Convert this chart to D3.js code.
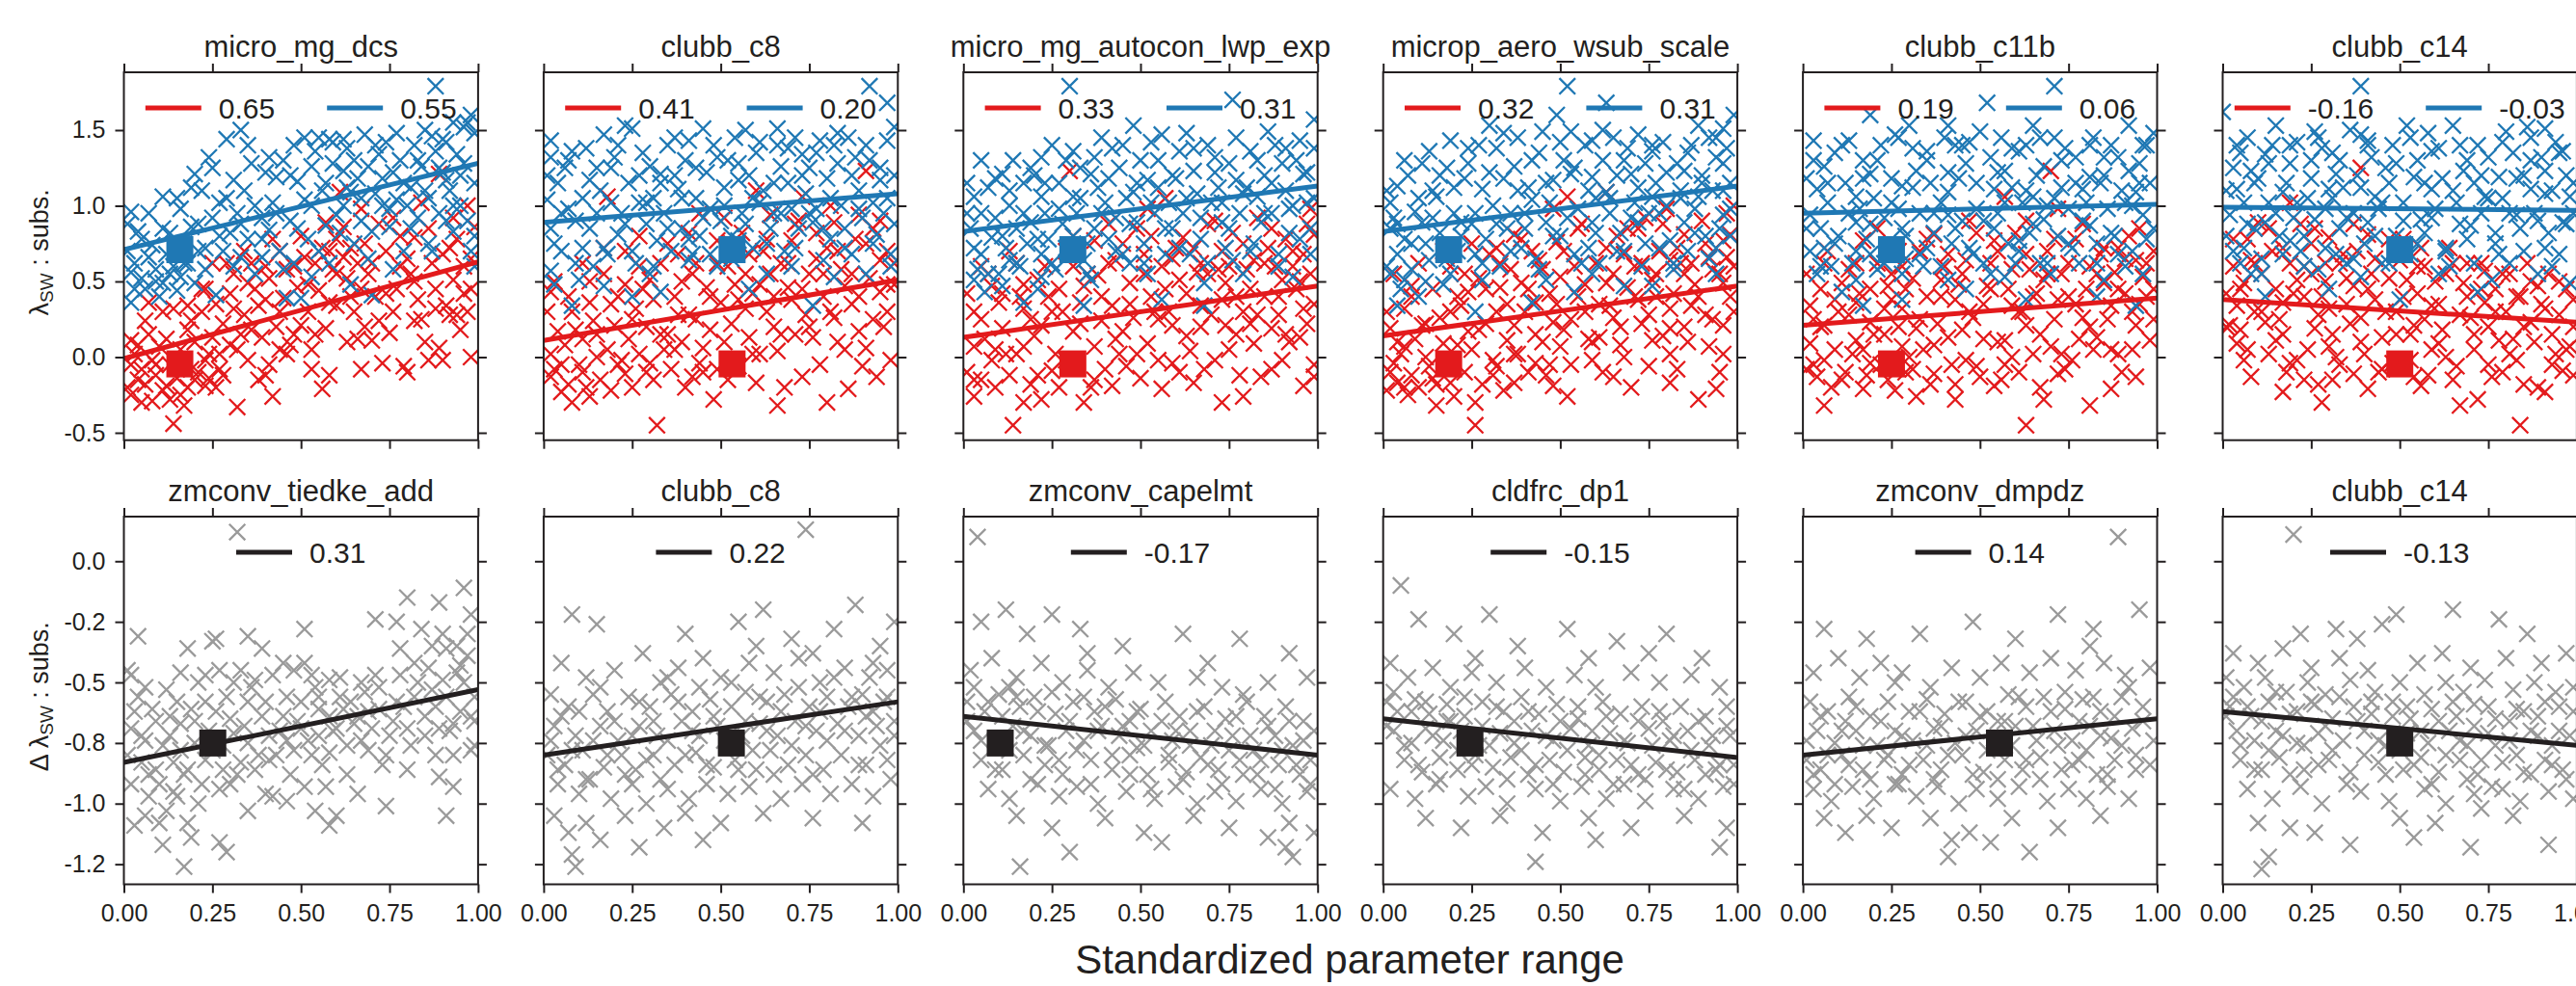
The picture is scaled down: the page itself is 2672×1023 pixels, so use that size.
<!DOCTYPE html>
<html><head><meta charset="utf-8">
<script src="https://cdn.jsdelivr.net/npm/d3@7"></script>
<style>
body{margin:0;background:#fff}
svg text{font-family:"Liberation Sans",Arial,Helvetica,sans-serif;fill:#231f20}
</style>
</head><body>
<svg id="c" width="2672" height="1023"></svg>
<script>
// ---------------- DATA ----------------
const topTitles = ["micro_mg_dcs","clubb_c8","micro_mg_autocon_lwp_exp","microp_aero_wsub_scale","clubb_c11b","clubb_c14"];
const bottomTitles = ["zmconv_tiedke_add","clubb_c8","zmconv_capelmt","cldfrc_dp1","zmconv_dmpdz","clubb_c14"];
const topRedCorr = ["0.65","0.41","0.33","0.32","0.19","-0.16"];
const topBlueCorr = ["0.55","0.20","0.31","0.31","0.06","-0.03"];
const bottomCorr = ["0.31","0.22","-0.17","-0.15","0.14","-0.13"];
const topDefaultX = [0.158,0.532,0.309,0.185,0.25,0.50];
const bottomDefaultX = [0.251,0.53,0.104,0.245,0.555,0.50];
const defaultRedY = -0.045, defaultBlueY = 0.71, defaultGreyY = -0.75;
const topRedFit = [[-0.01,0.63],[0.11,0.51],[0.13,0.47],[0.14,0.47],[0.21,0.39],[0.38,0.23]];
const topBlueFit = [[0.71,1.28],[0.89,1.08],[0.83,1.13],[0.83,1.13],[0.95,1.01],[0.99,0.97]];
const bottomFit = [[-0.83,-0.53],[-0.80,-0.58],[-0.64,-0.80],[-0.65,-0.81],[-0.80,-0.65],[-0.62,-0.76]];
const xTicks = [0,0.25,0.5,0.75,1];
const xTickLabels = ["0.00","0.25","0.50","0.75","1.00"];
const topYTicks = [-0.5,0,0.5,1.0,1.5];
const topYTickLabels = ["-0.5","0.0","0.5","1.0","1.5"];
const bottomYTicks = [-1.25,-1.0,-0.75,-0.5,-0.25,0];
const bottomYTickLabels = ["-1.2","-1.0","-0.8","-0.5","-0.2","0.0"];
const topYDomain = [-0.549,1.882];
const bottomYDomain = [-1.333,0.184];

const red1 = [[0.14,-0.44],[0.32,-0.33],[0.42,-0.26],[0.40,-0.12],[0.41,-0.05],[0.02,-0.25],[0.08,-0.29],[0.16,-0.25],[0.23,-0.19],[0.27,-0.08],[0.05,-0.08],[0.10,0.07],[0.14,0.32],[0.19,0.24],[0.25,0.13],[0.31,0.32],[0.37,0.45],[0.33,0.15],[0.39,0.13],[0.48,0.15],[0.53,0.05],[0.50,0.21],[0.45,0.39],[0.46,0.58],[0.51,0.66],[0.57,0.89],[0.58,0.70],[0.62,0.66],[0.61,1.09],[0.67,0.98],[0.67,-0.08],[0.73,-0.04],[0.80,-0.10],[0.86,-0.02],[0.90,-0.02],[0.98,0.00],[0.89,1.21],[0.93,0.92],[0.97,1.00],[0.82,0.79],[0.77,0.45],[0.72,0.24],[0.82,0.24],[0.88,0.32],[0.94,0.28],[0.98,0.45],[0.93,0.51],[0.67,0.45],[0.60,0.34],[0.57,0.19],[0.70,0.11],[0.25,0.62],[0.29,0.62],[0.35,0.49],[0.23,0.45],[0.18,0.34],[0.06,0.24],[0.02,0.11],[0.07,0.36],[0.27,0.02],[0.19,-0.08],[0.23,-0.02],[0.12,-0.19],[0.17,-0.32],[0.53,-0.08],[0.56,-0.21],[0.01,-0.20],[0.04,-0.15],[0.06,-0.18],[0.09,-0.12],[0.11,-0.22],[0.13,-0.05],[0.15,-0.14],[0.18,-0.20],[0.21,-0.10],[0.24,-0.14],[0.26,-0.20],[0.03,0.02],[0.08,-0.02],[0.12,0.12],[0.20,0.10],[0.22,0.30],[0.28,0.22],[0.30,0.08],[0.34,0.28],[0.36,0.62],[0.38,0.34],[0.41,0.52],[0.43,0.20],[0.44,0.70],[0.47,0.08],[0.49,0.46],[0.52,0.30],[0.54,0.62],[0.55,0.44],[0.59,0.58],[0.60,0.78],[0.63,0.52],[0.64,0.72],[0.65,0.30],[0.66,0.62],[0.69,0.55],[0.71,0.40],[0.74,0.70],[0.75,0.16],[0.76,0.92],[0.78,0.60],[0.79,-0.06],[0.81,0.55],[0.83,0.38],[0.84,1.02],[0.85,0.10],[0.87,0.62],[0.89,0.06],[0.91,0.34],[0.92,0.72],[0.95,0.18],[0.96,0.60],[0.97,0.30],[0.99,0.86],[0.35,-0.02],[0.44,0.05],[0.58,-0.12],[0.63,0.10],[0.68,0.20],[0.31,0.55],[0.40,0.60]];
const red1b = [[0.02,-0.05],[0.04,0.08],[0.05,-0.30],[0.07,0.15],[0.09,-0.05],[0.11,0.30],[0.13,-0.28],[0.16,0.05],[0.18,0.18],[0.20,-0.15],[0.22,0.45],[0.24,0.02],[0.26,0.35],[0.28,-0.12],[0.30,0.42],[0.32,0.05],[0.34,0.70],[0.36,0.18],[0.38,-0.15],[0.40,0.38],[0.42,0.78],[0.44,0.30],[0.46,0.02],[0.48,0.60],[0.50,0.80],[0.52,0.48],[0.54,0.15],[0.56,0.72],[0.58,0.36],[0.60,0.55],[0.62,0.86],[0.64,0.40],[0.66,0.12],[0.68,0.75],[0.70,0.62],[0.72,0.88],[0.74,0.42],[0.76,0.30],[0.78,0.80],[0.80,0.65],[0.82,0.50],[0.84,0.25],[0.86,0.85],[0.88,0.45],[0.90,0.68],[0.92,0.28],[0.94,0.78],[0.96,0.42],[0.98,0.65]];
const blue1 = [[0.88,1.79],[0.98,1.60],[0.96,1.52],[0.55,1.45],[0.58,1.44],[0.62,1.44],[0.68,1.47],[0.87,1.46],[0.90,1.44],[0.33,1.50],[0.29,1.44],[0.24,1.32],[0.20,1.21],[0.36,1.28],[0.31,1.17],[0.43,1.19],[0.48,1.40],[0.53,1.26],[0.62,1.23],[0.72,1.34],[0.82,1.40],[0.94,1.34],[0.91,1.17],[0.77,1.04],[0.62,1.00],[0.51,1.04],[0.39,0.92],[0.25,0.92],[0.16,0.98],[0.11,1.06],[0.02,0.96],[0.04,0.83],[0.07,0.66],[0.02,0.56],[0.06,0.45],[0.02,0.36],[0.11,0.49],[0.16,0.53],[0.20,0.49],[0.26,0.41],[0.28,0.70],[0.33,0.66],[0.39,0.66],[0.46,0.39],[0.50,0.39],[0.53,0.53],[0.57,0.87],[0.65,0.75],[0.70,0.83],[0.73,1.00],[0.80,1.00],[0.86,0.75],[0.93,0.83],[0.98,0.70],[0.99,0.60],[0.70,0.41],[0.91,0.90],[0.64,1.09],[0.01,0.70],[0.03,0.62],[0.05,0.52],[0.08,0.74],[0.09,0.58],[0.10,0.40],[0.12,0.68],[0.13,0.82],[0.14,0.60],[0.15,0.44],[0.17,0.75],[0.18,0.62],[0.19,0.86],[0.21,0.70],[0.22,1.10],[0.23,0.58],[0.27,1.02],[0.30,0.82],[0.32,0.95],[0.34,1.10],[0.35,0.78],[0.37,0.55],[0.40,1.22],[0.41,0.84],[0.42,1.02],[0.44,0.70],[0.45,1.30],[0.47,0.90],[0.49,1.16],[0.52,0.78],[0.54,1.36],[0.56,1.10],[0.59,1.28],[0.60,0.94],[0.63,1.38],[0.66,1.18],[0.67,0.90],[0.69,1.26],[0.71,1.08],[0.74,1.42],[0.75,0.86],[0.76,1.22],[0.78,1.30],[0.79,0.70],[0.81,1.12],[0.83,0.92],[0.84,1.26],[0.85,1.50],[0.86,1.05],[0.88,1.36],[0.89,0.95],[0.90,1.22],[0.92,1.10],[0.93,1.55],[0.95,1.00],[0.96,1.28],[0.97,0.90],[0.99,1.48],[0.99,1.15],[0.48,0.62],[0.58,0.62],[0.76,0.58],[0.64,0.48]];
const blue1b = [[0.01,0.88],[0.03,0.45],[0.05,0.78],[0.07,0.95],[0.09,0.50],[0.11,0.85],[0.13,0.55],[0.15,1.05],[0.17,0.62],[0.19,1.12],[0.21,0.88],[0.23,0.72],[0.25,1.25],[0.27,0.80],[0.29,1.05],[0.31,0.60],[0.33,0.88],[0.35,1.40],[0.37,1.00],[0.39,0.78],[0.41,1.32],[0.43,0.95],[0.45,0.58],[0.47,1.20],[0.49,0.85],[0.51,1.45],[0.53,1.00],[0.55,0.70],[0.57,1.15],[0.59,1.42],[0.61,0.82],[0.63,1.12],[0.65,1.30],[0.67,1.05],[0.69,0.65],[0.71,1.40],[0.73,1.18],[0.75,0.98],[0.77,1.48],[0.79,1.15],[0.81,0.85],[0.83,1.30],[0.85,1.10],[0.87,0.70],[0.89,1.25],[0.91,1.42],[0.93,1.00],[0.95,1.20],[0.97,1.55],[0.99,0.80]];
const red2 = [[0.32,-0.45],[0.08,-0.30],[0.05,-0.23],[0.13,-0.26],[0.48,-0.28],[0.66,-0.32],[0.80,-0.30],[0.86,-0.21],[0.52,-0.15],[0.60,-0.17],[0.42,-0.13],[0.23,-0.11],[0.02,0.02],[0.15,0.00],[0.30,-0.04],[0.73,-0.13],[0.94,-0.13],[0.98,-0.02],[0.91,0.06],[0.76,0.13],[0.66,0.04],[0.58,0.13],[0.45,0.06],[0.35,0.15],[0.20,0.21],[0.04,0.17],[0.08,0.30],[0.26,0.32],[0.38,0.28],[0.50,0.36],[0.63,0.30],[0.70,0.38],[0.82,0.26],[0.89,0.17],[0.97,0.30],[0.95,0.43],[0.85,0.47],[0.75,0.55],[0.64,0.55],[0.52,0.60],[0.42,0.55],[0.30,0.51],[0.17,0.55],[0.02,0.43],[0.11,0.62],[0.23,0.70],[0.38,0.68],[0.58,0.68],[0.70,0.77],[0.80,0.72],[0.95,0.64],[0.89,0.94],[0.82,0.89],[0.73,1.06],[0.64,0.94],[0.91,1.23],[0.18,1.06],[0.49,0.77],[0.13,0.36],[0.02,-0.13],[0.03,-0.08],[0.06,0.08],[0.07,-0.18],[0.10,-0.05],[0.11,0.12],[0.12,-0.20],[0.14,0.24],[0.16,-0.15],[0.18,0.05],[0.19,-0.22],[0.21,0.40],[0.22,-0.02],[0.24,0.12],[0.25,-0.20],[0.27,0.02],[0.28,0.45],[0.29,0.20],[0.31,-0.15],[0.33,0.62],[0.34,0.05],[0.36,-0.08],[0.37,0.40],[0.39,0.10],[0.40,-0.20],[0.41,0.82],[0.43,0.25],[0.44,-0.04],[0.46,0.46],[0.47,0.18],[0.49,-0.08],[0.51,0.92],[0.53,0.22],[0.54,0.48],[0.55,-0.06],[0.56,0.82],[0.57,0.32],[0.59,0.42],[0.61,0.02],[0.62,0.70],[0.65,0.20],[0.67,0.62],[0.68,-0.20],[0.69,0.46],[0.71,0.15],[0.72,0.90],[0.74,0.28],[0.77,0.65],[0.78,-0.05],[0.79,0.40],[0.81,1.00],[0.83,0.10],[0.84,0.58],[0.87,0.35],[0.88,0.78],[0.90,-0.06],[0.92,0.52],[0.93,0.85],[0.96,0.20],[0.97,0.70],[0.99,0.48],[0.44,0.95],[0.27,0.80],[0.60,1.10]];
const red2b = [[0.01,0.30],[0.03,0.50],[0.05,-0.05],[0.07,0.40],[0.09,0.18],[0.11,-0.10],[0.13,0.50],[0.15,0.15],[0.17,0.72],[0.19,0.35],[0.21,-0.05],[0.23,0.48],[0.25,0.25],[0.27,0.60],[0.29,-0.10],[0.31,0.38],[0.33,0.15],[0.35,0.75],[0.37,0.05],[0.39,0.50],[0.41,0.28],[0.43,0.62],[0.45,-0.10],[0.47,0.40],[0.49,0.62],[0.51,0.10],[0.53,0.75],[0.55,0.38],[0.57,0.55],[0.59,0.02],[0.61,0.48],[0.63,0.78],[0.65,0.40],[0.67,0.15],[0.69,0.62],[0.71,0.88],[0.73,0.45],[0.75,0.20],[0.77,0.82],[0.79,0.55],[0.81,0.30],[0.83,0.70],[0.85,0.05],[0.87,0.55],[0.89,0.40],[0.91,0.75],[0.93,0.25],[0.95,0.90],[0.97,0.48],[0.99,0.62]];
const blue2 = [[0.92,1.79],[0.97,1.68],[0.23,1.53],[0.25,1.51],[0.17,1.47],[0.45,1.51],[0.57,1.50],[0.66,1.51],[0.78,1.43],[0.82,1.40],[0.41,1.43],[0.02,1.43],[0.08,1.36],[0.02,1.32],[0.13,1.17],[0.20,1.32],[0.30,1.26],[0.33,1.21],[0.38,1.11],[0.52,1.30],[0.55,1.17],[0.67,1.26],[0.73,1.34],[0.88,1.32],[0.97,1.43],[0.95,1.17],[0.70,0.98],[0.61,1.02],[0.47,0.98],[0.27,1.02],[0.07,0.98],[0.01,1.04],[0.02,0.85],[0.11,0.72],[0.21,0.81],[0.32,0.77],[0.41,0.64],[0.55,0.77],[0.64,0.85],[0.76,0.89],[0.85,0.85],[0.94,0.81],[0.98,0.68],[0.10,0.51],[0.02,0.57],[0.14,0.60],[0.30,0.55],[0.42,0.68],[0.49,0.60],[0.63,0.55],[0.70,0.60],[0.79,0.64],[0.08,0.34],[0.17,0.47],[0.33,0.43],[0.76,0.34],[0.82,0.53],[0.91,0.55],[0.98,0.60],[0.04,1.15],[0.05,0.70],[0.06,1.25],[0.09,0.90],[0.12,1.38],[0.15,0.95],[0.16,1.10],[0.18,0.68],[0.19,1.25],[0.22,0.95],[0.24,1.15],[0.26,0.62],[0.28,1.35],[0.29,0.88],[0.31,1.05],[0.34,0.95],[0.35,1.40],[0.36,0.70],[0.37,1.20],[0.39,0.85],[0.40,1.30],[0.43,1.05],[0.44,0.80],[0.46,1.22],[0.48,1.40],[0.50,0.90],[0.51,1.12],[0.53,0.65],[0.54,1.45],[0.56,0.95],[0.58,1.20],[0.59,0.72],[0.60,1.35],[0.62,1.10],[0.65,0.95],[0.66,1.40],[0.68,0.70],[0.69,1.15],[0.71,1.45],[0.72,0.85],[0.74,1.08],[0.75,1.25],[0.77,0.98],[0.80,1.18],[0.81,0.78],[0.83,1.28],[0.84,1.00],[0.86,1.45],[0.87,0.68],[0.89,1.10],[0.90,0.92],[0.92,1.30],[0.93,1.02],[0.96,0.95],[0.99,1.20],[0.99,0.88],[0.25,0.40],[0.58,0.45],[0.03,0.48]];
const blue2b = [[0.01,1.20],[0.03,0.75],[0.05,0.95],[0.07,1.30],[0.09,0.62],[0.11,1.05],[0.13,0.85],[0.15,1.25],[0.17,0.72],[0.19,1.02],[0.21,1.40],[0.23,0.88],[0.25,0.70],[0.27,1.20],[0.29,1.02],[0.31,0.60],[0.33,1.15],[0.35,0.85],[0.37,1.45],[0.39,1.05],[0.41,0.78],[0.43,1.25],[0.45,0.92],[0.47,0.68],[0.49,1.32],[0.51,1.00],[0.53,0.80],[0.55,1.28],[0.57,0.88],[0.59,1.05],[0.61,1.42],[0.63,0.75],[0.65,1.15],[0.67,0.95],[0.69,1.38],[0.71,0.72],[0.73,1.20],[0.75,0.95],[0.77,1.35],[0.79,0.85],[0.81,1.05],[0.83,1.48],[0.85,0.72],[0.87,1.20],[0.89,0.98],[0.91,1.40],[0.93,0.75],[0.95,1.25],[0.97,1.05],[0.99,1.52]];
const red3 = [[0.14,-0.45],[0.34,-0.30],[0.73,-0.30],[0.79,-0.26],[0.56,-0.21],[0.17,-0.30],[0.03,-0.26],[0.05,-0.15],[0.22,-0.28],[0.42,-0.19],[0.96,-0.19],[0.99,-0.13],[0.65,-0.17],[0.84,-0.13],[0.25,-0.09],[0.46,-0.06],[0.59,-0.04],[0.71,-0.02],[0.90,-0.02],[0.08,-0.02],[0.03,0.07],[0.17,0.07],[0.37,0.07],[0.52,0.09],[0.64,0.04],[0.82,0.09],[0.95,0.13],[0.11,0.19],[0.22,0.21],[0.31,0.17],[0.45,0.17],[0.59,0.21],[0.74,0.21],[0.87,0.19],[0.03,0.30],[0.17,0.32],[0.28,0.30],[0.42,0.34],[0.54,0.30],[0.67,0.34],[0.79,0.30],[0.96,0.32],[0.08,0.47],[0.21,0.51],[0.34,0.47],[0.47,0.49],[0.61,0.51],[0.74,0.49],[0.90,0.51],[0.05,0.60],[0.15,0.62],[0.31,0.60],[0.43,0.64],[0.56,0.60],[0.67,0.62],[0.82,0.64],[0.93,0.60],[0.30,1.23],[0.49,0.85],[0.37,0.77],[0.52,0.98],[0.62,0.79],[0.73,0.70],[0.86,0.72],[0.98,0.98],[0.96,0.68],[0.99,0.81],[0.01,-0.10],[0.06,0.12],[0.09,-0.20],[0.10,0.36],[0.12,0.02],[0.13,-0.12],[0.16,0.40],[0.19,-0.18],[0.20,0.14],[0.24,0.40],[0.26,0.02],[0.27,-0.20],[0.29,0.70],[0.32,-0.06],[0.33,0.36],[0.36,-0.20],[0.38,0.54],[0.39,0.24],[0.40,-0.08],[0.41,0.88],[0.44,0.02],[0.48,0.26],[0.50,-0.14],[0.51,0.68],[0.53,0.40],[0.55,-0.02],[0.57,1.05],[0.58,0.30],[0.60,0.72],[0.63,0.14],[0.66,0.56],[0.68,-0.08],[0.69,0.88],[0.70,0.28],[0.72,0.58],[0.75,0.05],[0.76,0.82],[0.77,0.40],[0.78,-0.12],[0.80,0.58],[0.81,0.22],[0.83,0.92],[0.85,0.40],[0.87,-0.08],[0.88,0.60],[0.89,0.28],[0.91,0.78],[0.92,0.10],[0.94,0.45],[0.97,0.22],[0.98,0.55],[0.99,-0.05]];
const red3b = [[0.01,0.42],[0.03,-0.15],[0.05,0.25],[0.07,0.55],[0.09,0.05],[0.11,0.42],[0.13,0.70],[0.15,0.02],[0.17,0.48],[0.19,0.25],[0.21,-0.12],[0.23,0.60],[0.25,0.30],[0.27,0.45],[0.29,-0.02],[0.31,0.80],[0.33,0.22],[0.35,0.55],[0.37,-0.15],[0.39,0.40],[0.41,0.62],[0.43,0.12],[0.45,0.75],[0.47,0.35],[0.49,0.02],[0.51,0.55],[0.53,0.80],[0.55,0.25],[0.57,0.45],[0.59,0.65],[0.61,-0.10],[0.63,0.42],[0.65,0.72],[0.67,0.20],[0.69,0.55],[0.71,0.90],[0.73,0.38],[0.75,0.60],[0.77,0.15],[0.79,0.75],[0.81,0.45],[0.83,0.28],[0.85,0.62],[0.87,0.85],[0.89,0.40],[0.91,0.15],[0.93,0.70],[0.95,0.50],[0.97,0.88],[0.99,0.35]];
const blue3 = [[0.30,1.79],[0.76,1.70],[0.99,1.57],[0.48,1.53],[0.56,1.47],[0.86,1.49],[0.39,1.45],[0.95,1.43],[0.05,1.30],[0.22,1.32],[0.31,1.36],[0.61,1.36],[0.71,1.32],[0.81,1.36],[0.90,1.28],[0.11,1.21],[0.17,1.15],[0.36,1.21],[0.44,1.25],[0.52,1.17],[0.65,1.23],[0.77,1.17],[0.96,1.21],[0.03,1.06],[0.13,1.00],[0.22,1.06],[0.31,1.06],[0.40,1.02],[0.48,1.09],[0.58,1.02],[0.70,1.02],[0.83,1.06],[0.92,0.98],[0.02,0.85],[0.08,0.79],[0.19,0.89],[0.37,0.85],[0.49,0.89],[0.59,0.85],[0.73,0.89],[0.84,0.89],[0.98,0.85],[0.05,0.68],[0.13,0.64],[0.22,0.68],[0.34,0.64],[0.45,0.68],[0.64,0.68],[0.76,0.64],[0.89,0.68],[0.98,0.68],[0.03,0.51],[0.11,0.47],[0.22,0.53],[0.36,0.51],[0.52,0.55],[0.68,0.49],[0.79,0.55],[0.93,0.53],[0.17,0.36],[0.34,0.34],[0.56,0.38],[0.68,0.34],[0.06,0.43],[0.01,0.95],[0.04,0.58],[0.07,1.12],[0.09,0.92],[0.10,0.55],[0.12,0.72],[0.14,1.30],[0.15,0.85],[0.16,0.60],[0.18,0.75],[0.20,1.20],[0.21,0.45],[0.23,0.95],[0.24,0.78],[0.25,1.40],[0.26,0.58],[0.27,1.15],[0.28,0.88],[0.29,0.72],[0.32,0.95],[0.33,1.25],[0.35,0.75],[0.38,1.12],[0.41,0.78],[0.42,1.38],[0.43,0.92],[0.46,1.05],[0.47,0.62],[0.50,1.30],[0.51,0.75],[0.53,1.42],[0.54,0.95],[0.55,1.12],[0.57,0.68],[0.60,1.18],[0.62,0.95],[0.63,1.48],[0.66,1.08],[0.67,0.78],[0.69,1.40],[0.72,1.12],[0.74,0.72],[0.75,1.28],[0.78,0.95],[0.80,1.12],[0.82,0.75],[0.85,1.20],[0.87,0.95],[0.88,1.40],[0.91,1.10],[0.92,0.82],[0.94,1.30],[0.97,1.02],[0.99,1.38]];
const blue3b = [[0.01,1.15],[0.03,0.72],[0.05,0.95],[0.07,0.55],[0.09,1.18],[0.11,0.80],[0.13,1.10],[0.15,0.62],[0.17,0.95],[0.19,1.25],[0.21,0.78],[0.23,1.15],[0.25,0.62],[0.27,0.98],[0.29,1.30],[0.31,0.80],[0.33,1.05],[0.35,0.55],[0.37,1.32],[0.39,0.95],[0.41,1.18],[0.43,0.70],[0.45,1.40],[0.47,0.88],[0.49,1.15],[0.51,0.62],[0.53,1.02],[0.55,1.30],[0.57,0.85],[0.59,1.20],[0.61,0.72],[0.63,1.05],[0.65,1.38],[0.67,0.92],[0.69,0.62],[0.71,1.22],[0.73,1.02],[0.75,0.85],[0.77,1.45],[0.79,1.08],[0.81,0.70],[0.83,1.30],[0.85,0.95],[0.87,1.15],[0.89,0.60],[0.91,1.38],[0.93,1.00],[0.95,0.78],[0.97,1.22],[0.99,1.05]];
const red4 = [[0.26,-0.45],[0.15,-0.32],[0.26,-0.30],[0.52,-0.26],[0.89,-0.28],[0.94,-0.21],[0.04,-0.17],[0.19,-0.17],[0.37,-0.17],[0.48,-0.19],[0.65,-0.13],[0.81,-0.17],[0.03,-0.04],[0.13,-0.06],[0.32,-0.06],[0.43,-0.04],[0.59,-0.02],[0.68,0.00],[0.81,0.02],[0.96,0.02],[0.06,0.07],[0.17,0.09],[0.35,0.11],[0.50,0.07],[0.61,0.13],[0.76,0.11],[0.92,0.07],[0.02,0.19],[0.11,0.21],[0.24,0.17],[0.37,0.21],[0.48,0.23],[0.65,0.26],[0.81,0.19],[0.96,0.21],[0.06,0.32],[0.22,0.34],[0.32,0.30],[0.43,0.36],[0.57,0.30],[0.72,0.38],[0.87,0.34],[0.98,0.40],[0.08,0.47],[0.24,0.43],[0.39,0.49],[0.50,0.53],[0.63,0.49],[0.76,0.51],[0.85,0.55],[0.96,0.49],[0.19,0.60],[0.30,0.68],[0.44,0.64],[0.54,0.60],[0.68,0.68],[0.81,0.64],[0.92,0.66],[0.96,0.77],[0.32,0.72],[0.37,0.81],[0.48,0.98],[0.52,1.06],[0.63,1.09],[0.72,0.85],[0.85,0.81],[0.98,0.81],[0.01,-0.22],[0.02,-0.10],[0.05,0.02],[0.07,-0.25],[0.08,-0.12],[0.09,0.12],[0.10,-0.20],[0.12,0.00],[0.14,-0.14],[0.16,0.26],[0.18,-0.02],[0.20,-0.26],[0.21,0.40],[0.23,-0.10],[0.25,0.05],[0.27,0.52],[0.28,-0.18],[0.29,0.22],[0.31,-0.02],[0.33,0.46],[0.34,-0.22],[0.36,0.58],[0.38,0.02],[0.40,0.30],[0.41,-0.10],[0.42,0.70],[0.45,0.10],[0.46,-0.12],[0.47,0.42],[0.49,0.76],[0.51,0.18],[0.53,-0.05],[0.55,0.40],[0.56,0.88],[0.58,0.12],[0.60,0.62],[0.62,-0.10],[0.64,0.34],[0.66,0.80],[0.67,0.08],[0.69,0.46],[0.70,-0.20],[0.71,0.60],[0.73,0.22],[0.74,0.92],[0.75,-0.06],[0.77,0.40],[0.78,0.70],[0.79,0.14],[0.80,0.98],[0.82,0.42],[0.83,-0.08],[0.84,0.62],[0.86,0.10],[0.88,0.48],[0.90,0.90],[0.91,0.28],[0.93,0.58],[0.95,-0.10],[0.97,0.66],[0.99,0.30],[0.99,1.00]];
const red4b = [[0.01,0.30],[0.03,0.55],[0.04,0.10],[0.06,-0.20],[0.08,0.40],[0.10,0.62],[0.12,0.22],[0.14,0.45],[0.15,-0.18],[0.17,0.70],[0.19,0.30],[0.21,0.08],[0.23,0.55],[0.25,0.75],[0.27,0.18],[0.29,0.45],[0.31,-0.12],[0.33,0.62],[0.35,0.35],[0.37,0.02],[0.39,0.78],[0.41,0.45],[0.43,0.15],[0.45,0.58],[0.47,-0.05],[0.49,0.35],[0.51,0.70],[0.53,0.25],[0.55,0.85],[0.57,0.48],[0.59,0.10],[0.61,0.35],[0.63,0.72],[0.65,0.55],[0.67,0.20],[0.69,0.85],[0.71,0.40],[0.73,0.62],[0.75,0.28],[0.77,0.55],[0.79,0.88],[0.81,0.32],[0.83,0.72],[0.85,0.20],[0.87,0.62],[0.89,0.40],[0.91,0.75],[0.93,0.25],[0.95,0.55],[0.97,0.95],[0.99,0.60]];
const blue4 = [[0.52,1.79],[0.63,1.68],[0.49,1.60],[0.30,1.53],[0.45,1.49],[0.53,1.49],[0.72,1.47],[0.89,1.53],[0.96,1.51],[0.13,1.36],[0.19,1.43],[0.32,1.38],[0.59,1.43],[0.65,1.45],[0.76,1.36],[0.94,1.32],[0.04,1.13],[0.11,1.28],[0.24,1.28],[0.37,1.26],[0.48,1.17],[0.59,1.19],[0.70,1.21],[0.85,1.23],[0.96,1.28],[0.02,1.02],[0.15,1.06],[0.28,1.11],[0.42,1.04],[0.53,1.21],[0.63,1.09],[0.76,1.06],[0.89,1.06],[0.98,0.98],[0.02,0.85],[0.11,0.89],[0.22,0.89],[0.35,0.85],[0.46,0.89],[0.59,0.89],[0.72,0.89],[0.85,0.89],[0.96,0.94],[0.04,0.68],[0.13,0.64],[0.26,0.68],[0.39,0.72],[0.54,0.68],[0.68,0.70],[0.81,0.77],[0.94,0.72],[0.06,0.51],[0.19,0.55],[0.28,0.51],[0.46,0.51],[0.59,0.55],[0.68,0.47],[0.94,0.55],[0.04,0.34],[0.26,0.30],[0.42,0.36],[0.54,0.43],[0.76,0.47],[0.01,0.60],[0.03,0.92],[0.05,0.45],[0.06,0.78],[0.07,1.20],[0.08,0.58],[0.09,0.96],[0.10,0.40],[0.12,0.75],[0.14,1.10],[0.16,0.82],[0.17,0.48],[0.18,1.25],[0.20,0.95],[0.21,0.70],[0.23,1.18],[0.25,0.88],[0.27,1.40],[0.29,0.78],[0.31,1.00],[0.33,0.60],[0.34,1.18],[0.36,0.95],[0.38,1.45],[0.40,0.85],[0.41,1.12],[0.43,0.65],[0.44,1.35],[0.47,1.02],[0.50,0.80],[0.51,1.30],[0.55,0.98],[0.57,1.40],[0.58,0.72],[0.60,1.05],[0.61,0.62],[0.62,1.30],[0.64,0.95],[0.66,1.20],[0.67,0.82],[0.69,1.38],[0.71,1.02],[0.73,0.60],[0.74,1.28],[0.75,0.95],[0.77,1.15],[0.78,0.72],[0.79,1.42],[0.80,1.00],[0.82,0.62],[0.83,1.28],[0.84,1.10],[0.86,0.70],[0.87,1.40],[0.88,0.98],[0.90,1.20],[0.91,0.80],[0.92,1.45],[0.93,1.10],[0.95,0.85],[0.97,1.38],[0.98,1.15],[0.99,1.60]];
const blue4b = [[0.01,1.10],[0.02,0.55],[0.04,0.88],[0.06,1.30],[0.08,0.75],[0.10,1.05],[0.12,0.50],[0.14,0.92],[0.16,1.20],[0.18,0.65],[0.20,1.12],[0.22,0.80],[0.24,1.38],[0.26,0.95],[0.28,0.62],[0.30,1.22],[0.32,0.88],[0.34,1.48],[0.36,0.70],[0.38,1.10],[0.40,0.95],[0.42,1.30],[0.44,0.58],[0.46,1.15],[0.48,0.80],[0.50,1.42],[0.52,0.92],[0.54,1.25],[0.56,0.62],[0.58,1.10],[0.60,0.82],[0.62,1.50],[0.64,1.05],[0.66,0.70],[0.68,1.30],[0.70,0.92],[0.72,1.12],[0.74,0.75],[0.76,1.40],[0.78,0.95],[0.80,1.22],[0.82,0.58],[0.84,1.05],[0.86,1.35],[0.88,0.82],[0.90,1.15],[0.92,0.65],[0.94,1.45],[0.96,1.10],[0.98,0.80]];
const red5 = [[0.63,-0.45],[0.06,-0.32],[0.43,-0.28],[0.68,-0.28],[0.81,-0.32],[0.17,-0.21],[0.32,-0.26],[0.54,-0.19],[0.87,-0.21],[0.04,-0.13],[0.24,-0.15],[0.37,-0.11],[0.50,-0.13],[0.72,-0.11],[0.94,-0.13],[0.06,-0.02],[0.19,-0.04],[0.30,0.00],[0.46,-0.02],[0.59,0.00],[0.76,-0.02],[0.89,0.02],[0.02,0.09],[0.15,0.11],[0.28,0.07],[0.41,0.13],[0.57,0.11],[0.70,0.07],[0.83,0.13],[0.98,0.11],[0.06,0.21],[0.19,0.23],[0.32,0.19],[0.48,0.26],[0.63,0.21],[0.79,0.26],[0.94,0.21],[0.02,0.34],[0.15,0.36],[0.28,0.32],[0.43,0.38],[0.59,0.34],[0.72,0.38],[0.87,0.34],[0.11,0.49],[0.24,0.47],[0.39,0.51],[0.52,0.47],[0.68,0.51],[0.85,0.49],[0.96,0.53],[0.06,0.62],[0.28,0.60],[0.46,0.64],[0.63,0.68],[0.81,0.60],[0.94,0.64],[0.17,0.77],[0.37,0.81],[0.54,0.77],[0.72,0.98],[0.89,0.72],[0.70,1.23],[0.57,1.06],[0.01,-0.08],[0.03,0.25],[0.05,0.45],[0.08,-0.20],[0.09,0.05],[0.10,0.30],[0.12,-0.10],[0.13,0.58],[0.14,0.02],[0.16,0.42],[0.18,-0.12],[0.20,0.15],[0.21,0.62],[0.22,-0.05],[0.23,0.32],[0.25,0.55],[0.26,-0.22],[0.27,0.20],[0.29,0.45],[0.31,-0.08],[0.33,0.70],[0.34,0.05],[0.35,0.40],[0.36,-0.18],[0.38,0.22],[0.40,0.60],[0.42,-0.05],[0.44,0.48],[0.45,0.18],[0.47,0.90],[0.49,-0.06],[0.51,0.35],[0.53,0.62],[0.55,0.10],[0.56,-0.15],[0.58,0.45],[0.60,0.82],[0.61,-0.10],[0.62,0.30],[0.64,0.58],[0.65,0.02],[0.66,0.42],[0.67,-0.20],[0.69,0.70],[0.71,0.25],[0.73,0.55],[0.74,-0.08],[0.75,0.40],[0.77,0.78],[0.78,0.12],[0.80,0.45],[0.82,0.05],[0.84,0.68],[0.86,0.25],[0.88,0.56],[0.90,-0.10],[0.91,0.42],[0.92,0.80],[0.93,0.05],[0.95,0.35],[0.97,0.62],[0.99,0.25],[0.99,0.45]];
const red5b = [[0.01,0.55],[0.03,-0.05],[0.05,0.20],[0.07,0.70],[0.09,0.38],[0.11,-0.15],[0.13,0.28],[0.15,0.62],[0.17,0.05],[0.19,0.45],[0.21,0.85],[0.23,0.15],[0.25,0.38],[0.27,0.70],[0.29,-0.10],[0.31,0.52],[0.33,0.25],[0.35,0.78],[0.37,0.08],[0.39,0.40],[0.41,0.68],[0.43,-0.18],[0.45,0.55],[0.47,0.30],[0.49,0.82],[0.51,0.12],[0.53,0.45],[0.55,0.70],[0.57,-0.05],[0.59,0.58],[0.61,0.30],[0.63,0.90],[0.65,0.40],[0.67,0.15],[0.69,0.55],[0.71,0.78],[0.73,0.02],[0.75,0.62],[0.77,0.35],[0.79,0.88],[0.81,0.20],[0.83,0.55],[0.85,0.72],[0.87,0.05],[0.89,0.45],[0.91,0.65],[0.93,0.30],[0.95,0.85],[0.97,0.40],[0.99,0.70]];
const blue5 = [[0.71,1.79],[0.52,1.68],[0.19,1.60],[0.30,1.53],[0.41,1.53],[0.50,1.49],[0.65,1.53],[0.92,1.53],[0.03,1.43],[0.13,1.43],[0.26,1.47],[0.35,1.36],[0.43,1.40],[0.61,1.36],[0.74,1.38],[0.85,1.32],[0.96,1.40],[0.06,1.26],[0.19,1.21],[0.32,1.23],[0.46,1.28],[0.57,1.23],[0.68,1.26],[0.81,1.19],[0.92,1.23],[0.04,1.11],[0.15,1.06],[0.28,1.13],[0.41,1.09],[0.54,1.11],[0.65,1.06],[0.79,1.11],[0.94,1.09],[0.02,0.94],[0.15,0.89],[0.28,0.85],[0.41,0.94],[0.54,0.85],[0.68,0.91],[0.81,0.87],[0.96,0.94],[0.06,0.72],[0.19,0.68],[0.35,0.72],[0.48,0.68],[0.61,0.77],[0.76,0.72],[0.89,0.68],[0.04,0.55],[0.15,0.51],[0.28,0.55],[0.41,0.51],[0.57,0.53],[0.70,0.55],[0.85,0.51],[0.96,0.55],[0.11,0.43],[0.28,0.38],[0.46,0.45],[0.63,0.38],[0.83,0.40],[0.94,0.34],[0.17,0.34],[0.01,1.18],[0.02,0.70],[0.05,0.85],[0.07,1.02],[0.08,0.60],[0.09,1.35],[0.10,0.80],[0.12,1.15],[0.14,0.62],[0.16,0.98],[0.17,1.30],[0.18,0.78],[0.20,1.05],[0.21,0.58],[0.22,1.40],[0.23,0.92],[0.24,0.72],[0.25,1.18],[0.27,0.98],[0.29,0.65],[0.31,1.38],[0.33,0.95],[0.34,0.60],[0.36,1.15],[0.37,0.82],[0.39,1.02],[0.40,1.45],[0.42,0.75],[0.44,1.18],[0.45,0.90],[0.47,1.42],[0.49,0.98],[0.51,0.62],[0.53,1.32],[0.55,0.95],[0.56,1.45],[0.58,0.75],[0.59,1.12],[0.60,0.62],[0.62,1.02],[0.63,1.40],[0.64,0.82],[0.66,1.20],[0.67,0.62],[0.69,1.00],[0.71,1.45],[0.72,0.80],[0.73,1.12],[0.75,0.98],[0.77,1.32],[0.78,0.62],[0.80,1.02],[0.82,1.45],[0.83,0.75],[0.84,1.15],[0.86,0.98],[0.87,1.40],[0.88,0.80],[0.90,1.10],[0.91,0.60],[0.93,1.00],[0.95,1.28],[0.97,0.78],[0.98,1.15],[0.99,1.48]];
const blue5b = [[0.01,0.85],[0.03,1.30],[0.05,0.60],[0.07,1.15],[0.09,0.75],[0.11,1.40],[0.13,0.95],[0.15,0.70],[0.17,1.18],[0.19,0.88],[0.21,1.30],[0.23,0.62],[0.25,1.02],[0.27,1.45],[0.29,0.80],[0.31,1.12],[0.33,0.68],[0.35,1.30],[0.37,0.95],[0.39,0.60],[0.41,1.22],[0.43,0.85],[0.45,1.40],[0.47,0.72],[0.49,1.15],[0.51,0.90],[0.53,0.55],[0.55,1.22],[0.57,1.02],[0.59,1.38],[0.61,0.70],[0.63,1.10],[0.65,0.88],[0.67,1.45],[0.69,0.62],[0.71,1.05],[0.73,1.30],[0.75,0.75],[0.77,1.15],[0.79,0.90],[0.81,1.40],[0.83,0.62],[0.85,1.20],[0.87,0.82],[0.89,1.32],[0.91,1.02],[0.93,0.70],[0.95,1.15],[0.97,1.40],[0.99,0.85]];
const red6 = [[0.84,-0.45],[0.28,-0.30],[0.67,-0.32],[0.72,-0.28],[0.17,-0.23],[0.41,-0.21],[0.56,-0.19],[0.91,-0.23],[0.08,-0.13],[0.23,-0.15],[0.37,-0.11],[0.54,-0.13],[0.76,-0.13],[0.96,-0.09],[0.06,-0.02],[0.19,-0.04],[0.32,0.00],[0.48,-0.04],[0.63,0.00],[0.83,-0.02],[0.94,0.02],[0.04,0.09],[0.15,0.11],[0.30,0.07],[0.45,0.13],[0.61,0.09],[0.78,0.11],[0.98,0.07],[0.02,0.21],[0.12,0.23],[0.26,0.19],[0.39,0.26],[0.54,0.21],[0.70,0.26],[0.87,0.23],[0.04,0.34],[0.17,0.36],[0.30,0.32],[0.43,0.38],[0.59,0.34],[0.74,0.36],[0.06,0.49],[0.21,0.51],[0.37,0.47],[0.52,0.51],[0.68,0.49],[0.89,0.47],[0.08,0.64],[0.23,0.60],[0.34,0.68],[0.50,0.64],[0.65,0.62],[0.17,0.72],[0.30,0.79],[0.41,0.81],[0.56,0.72],[0.10,0.89],[0.19,1.02],[0.39,1.25],[0.26,0.85],[0.74,0.57],[0.01,0.42],[0.03,0.60],[0.05,0.18],[0.07,0.78],[0.09,0.30],[0.11,0.55],[0.13,0.02],[0.14,0.70],[0.16,0.25],[0.18,-0.10],[0.20,0.42],[0.22,0.88],[0.24,0.05],[0.25,0.55],[0.27,-0.18],[0.28,0.40],[0.29,0.62],[0.31,0.15],[0.33,-0.05],[0.35,0.52],[0.36,0.22],[0.38,0.70],[0.40,0.02],[0.42,0.55],[0.44,-0.10],[0.46,0.30],[0.47,0.78],[0.49,0.15],[0.51,0.40],[0.53,-0.02],[0.55,0.60],[0.57,0.25],[0.58,-0.12],[0.60,0.50],[0.62,0.18],[0.64,0.72],[0.66,-0.06],[0.69,0.40],[0.71,0.05],[0.73,0.62],[0.75,0.20],[0.77,0.45],[0.79,-0.10],[0.80,0.30],[0.81,0.55],[0.82,0.12],[0.84,0.40],[0.85,-0.18],[0.86,0.62],[0.88,0.10],[0.90,0.35],[0.92,0.55],[0.93,-0.05],[0.95,0.28],[0.97,0.45],[0.99,-0.12],[0.99,0.20]];
const red6b = [[0.01,0.20],[0.03,0.78],[0.05,0.45],[0.07,0.05],[0.09,0.62],[0.11,0.30],[0.13,0.85],[0.15,0.45],[0.17,0.15],[0.19,0.62],[0.21,-0.02],[0.23,0.40],[0.25,0.75],[0.27,0.28],[0.29,0.50],[0.31,-0.15],[0.33,0.62],[0.35,0.35],[0.37,0.88],[0.39,0.10],[0.41,0.45],[0.43,0.65],[0.45,-0.08],[0.47,0.52],[0.49,0.30],[0.51,0.78],[0.53,0.15],[0.55,0.42],[0.57,0.60],[0.59,0.05],[0.61,0.35],[0.63,0.55],[0.65,-0.15],[0.67,0.28],[0.69,0.62],[0.71,0.15],[0.73,0.45],[0.75,-0.05],[0.77,0.30],[0.79,0.55],[0.81,0.02],[0.83,0.40],[0.85,0.20],[0.87,0.50],[0.89,-0.20],[0.91,0.32],[0.93,0.15],[0.95,0.50],[0.97,0.05],[0.99,0.38]];
const blue6 = [[0.39,1.79],[0.15,1.53],[0.26,1.49],[0.39,1.47],[0.52,1.53],[0.65,1.53],[0.80,1.49],[0.91,1.51],[0.04,1.40],[0.12,1.34],[0.28,1.38],[0.41,1.43],[0.59,1.36],[0.72,1.40],[0.87,1.45],[0.96,1.36],[0.08,1.23],[0.19,1.28],[0.32,1.21],[0.46,1.25],[0.54,1.19],[0.68,1.23],[0.78,1.19],[0.91,1.23],[0.04,1.11],[0.17,1.09],[0.30,1.11],[0.43,1.06],[0.59,1.11],[0.74,1.06],[0.87,1.11],[0.98,1.06],[0.02,0.94],[0.12,0.89],[0.26,0.91],[0.41,0.89],[0.56,0.91],[0.70,0.87],[0.83,0.94],[0.96,0.89],[0.06,0.72],[0.19,0.77],[0.32,0.68],[0.63,0.72],[0.78,0.68],[0.91,0.72],[0.08,0.55],[0.23,0.60],[0.39,0.53],[0.61,0.55],[0.76,0.51],[0.89,0.55],[0.12,0.40],[0.30,0.45],[0.50,0.38],[0.72,0.43],[0.98,0.49],[0.00,1.62],[0.01,0.80],[0.03,1.25],[0.05,0.62],[0.06,1.02],[0.07,1.45],[0.09,0.85],[0.10,1.18],[0.11,0.65],[0.13,1.02],[0.14,1.40],[0.16,0.80],[0.18,1.15],[0.20,0.92],[0.21,1.42],[0.22,0.70],[0.24,1.05],[0.25,1.30],[0.27,0.58],[0.29,0.98],[0.31,1.35],[0.33,0.85],[0.34,1.12],[0.35,0.62],[0.36,1.50],[0.37,0.95],[0.38,1.20],[0.40,0.75],[0.42,1.32],[0.44,0.98],[0.45,0.62],[0.47,1.15],[0.48,1.40],[0.49,0.80],[0.51,1.02],[0.53,0.68],[0.55,1.30],[0.57,0.82],[0.58,1.48],[0.60,0.98],[0.62,1.18],[0.64,0.60],[0.66,1.02],[0.67,1.40],[0.69,0.78],[0.71,1.15],[0.73,0.95],[0.75,1.32],[0.77,0.82],[0.79,1.05],[0.81,0.62],[0.82,1.35],[0.84,0.85],[0.85,1.20],[0.86,1.52],[0.88,0.95],[0.90,1.32],[0.92,0.82],[0.93,1.10],[0.94,1.42],[0.95,0.68],[0.97,1.20],[0.99,0.95]];
const blue6b = [[0.01,1.10],[0.03,0.70],[0.05,1.35],[0.07,0.88],[0.09,1.15],[0.11,0.55],[0.13,1.28],[0.15,0.95],[0.17,0.68],[0.19,1.40],[0.21,1.02],[0.23,0.80],[0.25,1.18],[0.27,1.45],[0.29,0.72],[0.31,1.05],[0.33,1.30],[0.35,0.92],[0.37,0.65],[0.39,1.12],[0.41,1.40],[0.43,0.80],[0.45,1.02],[0.47,0.62],[0.49,1.28],[0.51,0.90],[0.53,1.45],[0.55,0.75],[0.57,1.15],[0.59,0.92],[0.61,1.38],[0.63,0.70],[0.65,1.10],[0.67,0.88],[0.69,1.30],[0.71,0.62],[0.73,1.20],[0.75,1.05],[0.77,0.75],[0.79,1.42],[0.81,0.95],[0.83,1.18],[0.85,0.70],[0.87,1.30],[0.89,0.90],[0.91,1.08],[0.93,0.60],[0.95,1.35],[0.97,0.88],[0.99,1.15]];

const grey1 = [[0.32,0.12],[0.04,-0.31],[0.18,-0.36],[0.25,-0.33],[0.26,-0.32],[0.35,-0.31],[0.39,-0.36],[0.51,-0.28],[0.51,-0.42],[0.71,-0.24],[0.77,-0.25],[0.80,-0.15],[0.89,-0.17],[0.96,-0.11],[0.98,-0.22],[0.84,-0.28],[0.87,-0.35],[0.91,-0.36],[0.94,-0.35],[0.97,-0.39],[0.95,-0.43],[0.90,-0.49],[0.82,-0.42],[0.78,-0.47],[0.71,-0.47],[0.67,-0.50],[0.68,-0.54],[0.61,-0.56],[0.55,-0.56],[0.58,-0.49],[0.53,-0.47],[0.48,-0.45],[0.45,-0.42],[0.42,-0.47],[0.37,-0.49],[0.33,-0.45],[0.31,-0.50],[0.27,-0.45],[0.23,-0.47],[0.21,-0.50],[0.16,-0.46],[0.12,-0.53],[0.06,-0.52],[0.02,-0.47],[0.01,-0.45],[0.04,-0.56],[0.08,-0.61],[0.13,-0.64],[0.16,-0.67],[0.19,-0.61],[0.23,-0.58],[0.29,-0.56],[0.35,-0.58],[0.39,-0.64],[0.45,-0.64],[0.50,-0.58],[0.55,-0.61],[0.58,-0.64],[0.62,-0.61],[0.66,-0.64],[0.72,-0.61],[0.77,-0.58],[0.82,-0.56],[0.87,-0.53],[0.91,-0.56],[0.96,-0.50],[0.99,-0.56],[0.98,-0.64],[0.93,-0.67],[0.89,-0.69],[0.85,-0.64],[0.80,-0.69],[0.75,-0.72],[0.70,-0.69],[0.65,-0.67],[0.60,-0.69],[0.55,-0.72],[0.50,-0.69],[0.46,-0.74],[0.41,-0.72],[0.35,-0.75],[0.31,-0.71],[0.25,-0.78],[0.20,-0.75],[0.16,-0.78],[0.11,-0.76],[0.06,-0.74],[0.02,-0.69],[0.01,-0.80],[0.05,-0.83],[0.09,-0.86],[0.14,-0.83],[0.18,-0.86],[0.23,-0.82],[0.28,-0.86],[0.33,-0.83],[0.38,-0.80],[0.43,-0.80],[0.48,-0.78],[0.53,-0.80],[0.58,-0.79],[0.63,-0.76],[0.69,-0.78],[0.74,-0.80],[0.80,-0.86],[0.88,-0.80],[0.93,-0.80],[0.99,-0.76],[0.02,-0.92],[0.07,-0.97],[0.12,-1.03],[0.06,-1.05],[0.10,-1.08],[0.03,-1.09],[0.11,-1.17],[0.15,-0.97],[0.21,-1.00],[0.18,-1.08],[0.19,-1.14],[0.17,-1.26],[0.27,-1.16],[0.29,-1.20],[0.27,-0.94],[0.30,-0.92],[0.35,-1.03],[0.40,-0.96],[0.42,-0.97],[0.46,-0.99],[0.51,-0.93],[0.54,-1.03],[0.57,-0.93],[0.58,-1.09],[0.60,-1.05],[0.66,-0.96],[0.74,-1.01],[0.89,-0.89],[0.91,-1.05],[0.93,-0.93],[0.98,-0.78]];
const grey1b = [[0.03,-0.62],[0.05,-0.72],[0.07,-0.88],[0.09,-0.66],[0.10,-0.92],[0.13,-0.72],[0.14,-0.95],[0.15,-0.58],[0.17,-0.88],[0.20,-0.66],[0.22,-0.92],[0.24,-0.70],[0.26,-0.62],[0.28,-0.76],[0.30,-0.65],[0.32,-0.88],[0.34,-0.68],[0.36,-0.52],[0.37,-0.86],[0.40,-0.58],[0.41,-0.82],[0.44,-0.70],[0.46,-0.56],[0.47,-0.88],[0.49,-0.66],[0.52,-0.74],[0.54,-0.52],[0.56,-0.84],[0.59,-0.70],[0.61,-0.48],[0.63,-0.88],[0.64,-0.58],[0.67,-0.74],[0.69,-0.62],[0.72,-0.52],[0.73,-0.84],[0.76,-0.66],[0.78,-0.36],[0.79,-0.60],[0.81,-0.76],[0.83,-0.50],[0.85,-0.72],[0.86,-0.44],[0.88,-0.60],[0.90,-0.30],[0.92,-0.70],[0.94,-0.46],[0.95,-0.62],[0.97,-0.30],[0.99,-0.66]];
const grey2 = [[0.74,0.13],[0.08,-0.22],[0.15,-0.26],[0.40,-0.30],[0.55,-0.25],[0.62,-0.20],[0.70,-0.32],[0.82,-0.28],[0.88,-0.18],[0.95,-0.35],[0.99,-0.25],[0.05,-0.42],[0.12,-0.48],[0.20,-0.45],[0.28,-0.38],[0.33,-0.50],[0.38,-0.44],[0.45,-0.40],[0.50,-0.48],[0.58,-0.42],[0.65,-0.46],[0.72,-0.40],[0.78,-0.50],[0.85,-0.44],[0.92,-0.48],[0.97,-0.45],[0.02,-0.55],[0.07,-0.60],[0.14,-0.55],[0.18,-0.62],[0.24,-0.56],[0.30,-0.60],[0.36,-0.55],[0.42,-0.62],[0.47,-0.57],[0.53,-0.60],[0.57,-0.54],[0.63,-0.58],[0.68,-0.55],[0.75,-0.60],[0.80,-0.56],[0.86,-0.60],[0.90,-0.55],[0.96,-0.58],[0.03,-0.68],[0.09,-0.72],[0.16,-0.68],[0.21,-0.74],[0.27,-0.68],[0.32,-0.72],[0.39,-0.66],[0.44,-0.72],[0.49,-0.68],[0.56,-0.72],[0.61,-0.67],[0.66,-0.72],[0.71,-0.66],[0.77,-0.70],[0.83,-0.67],[0.89,-0.72],[0.94,-0.68],[0.99,-0.72],[0.01,-0.80],[0.06,-0.84],[0.11,-0.78],[0.17,-0.85],[0.22,-0.80],[0.26,-0.86],[0.31,-0.80],[0.37,-0.84],[0.43,-0.79],[0.48,-0.85],[0.54,-0.82],[0.60,-0.86],[0.64,-0.78],[0.69,-0.84],[0.74,-0.80],[0.79,-0.86],[0.84,-0.80],[0.91,-0.84],[0.97,-0.82],[0.04,-0.92],[0.10,-0.96],[0.13,-0.90],[0.19,-0.98],[0.25,-0.92],[0.29,-1.00],[0.35,-0.94],[0.41,-0.98],[0.46,-0.92],[0.52,-0.96],[0.58,-0.93],[0.67,-0.98],[0.73,-0.92],[0.81,-0.96],[0.87,-0.92],[0.93,-0.97],[0.98,-0.90],[0.03,-1.05],[0.07,-1.12],[0.12,-1.08],[0.16,-1.15],[0.23,-1.05],[0.34,-1.10],[0.40,-1.04],[0.50,-1.08],[0.62,-1.04],[0.76,-1.06],[0.90,-1.08],[0.08,-1.21],[0.09,-1.26],[0.27,-1.18],[0.45,-1.15],[0.35,-0.48],[0.60,-0.35],[0.76,-0.38],[0.93,-0.62]];
const grey2b = [[0.02,-0.74],[0.04,-0.86],[0.05,-0.64],[0.08,-0.78],[0.10,-0.62],[0.12,-0.90],[0.14,-0.74],[0.16,-0.52],[0.18,-0.80],[0.20,-0.66],[0.23,-0.88],[0.25,-0.72],[0.27,-0.58],[0.29,-0.82],[0.31,-0.66],[0.33,-0.90],[0.35,-0.74],[0.38,-0.58],[0.40,-0.80],[0.42,-0.70],[0.44,-0.52],[0.46,-0.84],[0.48,-0.64],[0.51,-0.74],[0.53,-0.50],[0.55,-0.86],[0.57,-0.66],[0.59,-0.78],[0.61,-0.56],[0.63,-0.70],[0.65,-0.88],[0.67,-0.62],[0.70,-0.76],[0.72,-0.52],[0.74,-0.68],[0.76,-0.88],[0.78,-0.62],[0.80,-0.74],[0.82,-0.48],[0.85,-0.70],[0.87,-0.56],[0.89,-0.84],[0.91,-0.64],[0.93,-0.42],[0.95,-0.76],[0.97,-0.56],[0.99,-0.66]];
const grey3 = [[0.04,0.10],[0.05,-0.25],[0.12,-0.20],[0.18,-0.30],[0.25,-0.22],[0.33,-0.28],[0.45,-0.35],[0.62,-0.30],[0.78,-0.32],[0.92,-0.38],[0.02,-0.45],[0.08,-0.40],[0.15,-0.48],[0.22,-0.42],[0.28,-0.50],[0.35,-0.45],[0.41,-0.52],[0.48,-0.46],[0.55,-0.50],[0.66,-0.48],[0.73,-0.52],[0.86,-0.50],[0.97,-0.48],[0.01,-0.58],[0.06,-0.62],[0.10,-0.55],[0.16,-0.60],[0.20,-0.56],[0.26,-0.63],[0.31,-0.58],[0.37,-0.62],[0.43,-0.57],[0.50,-0.61],[0.57,-0.58],[0.61,-0.64],[0.68,-0.60],[0.74,-0.65],[0.80,-0.58],[0.85,-0.64],[0.91,-0.60],[0.96,-0.66],[0.03,-0.70],[0.09,-0.74],[0.14,-0.68],[0.19,-0.72],[0.24,-0.76],[0.29,-0.70],[0.34,-0.74],[0.39,-0.68],[0.44,-0.72],[0.49,-0.77],[0.53,-0.70],[0.59,-0.74],[0.64,-0.70],[0.70,-0.76],[0.76,-0.72],[0.82,-0.78],[0.88,-0.72],[0.93,-0.76],[0.99,-0.70],[0.05,-0.82],[0.11,-0.86],[0.17,-0.80],[0.23,-0.84],[0.28,-0.88],[0.36,-0.82],[0.42,-0.86],[0.47,-0.80],[0.52,-0.88],[0.58,-0.83],[0.63,-0.87],[0.67,-0.81],[0.72,-0.86],[0.78,-0.82],[0.83,-0.88],[0.89,-0.84],[0.95,-0.88],[0.98,-0.82],[0.07,-0.94],[0.13,-0.98],[0.21,-0.92],[0.27,-0.97],[0.32,-0.93],[0.38,-1.00],[0.46,-0.95],[0.54,-0.98],[0.60,-0.93],[0.66,-1.00],[0.71,-0.95],[0.77,-0.99],[0.84,-0.94],[0.90,-1.00],[0.97,-0.95],[0.15,-1.05],[0.25,-1.10],[0.40,-1.06],[0.51,-1.12],[0.65,-1.05],[0.75,-1.10],[0.86,-1.14],[0.92,-1.08],[0.99,-1.12],[0.16,-1.26],[0.30,-1.20],[0.56,-1.16],[0.91,-1.18],[0.93,-1.22],[0.79,-0.55],[0.35,-0.38],[0.69,-0.42],[0.47,-0.66],[0.13,-0.52]];
const grey3b = [[0.01,-0.66],[0.03,-0.52],[0.05,-0.74],[0.07,-0.58],[0.09,-0.86],[0.11,-0.64],[0.13,-0.78],[0.15,-0.56],[0.17,-0.70],[0.19,-0.90],[0.21,-0.62],[0.23,-0.76],[0.25,-0.54],[0.27,-0.82],[0.30,-0.66],[0.32,-0.78],[0.34,-0.56],[0.36,-0.92],[0.38,-0.70],[0.40,-0.60],[0.42,-0.80],[0.45,-0.68],[0.47,-0.88],[0.49,-0.62],[0.51,-0.76],[0.53,-0.94],[0.56,-0.66],[0.58,-0.80],[0.60,-0.70],[0.62,-0.90],[0.64,-0.76],[0.66,-0.62],[0.69,-0.84],[0.71,-0.70],[0.73,-0.92],[0.75,-0.78],[0.77,-0.64],[0.79,-0.88],[0.81,-0.72],[0.84,-0.82],[0.86,-0.68],[0.88,-0.94],[0.90,-0.78],[0.92,-0.66],[0.94,-0.84],[0.96,-0.74],[0.98,-0.92]];
const grey4 = [[0.05,-0.10],[0.10,-0.24],[0.20,-0.30],[0.30,-0.22],[0.38,-0.35],[0.52,-0.28],[0.66,-0.33],[0.80,-0.30],[0.90,-0.40],[0.02,-0.42],[0.07,-0.48],[0.14,-0.44],[0.19,-0.52],[0.25,-0.46],[0.32,-0.50],[0.40,-0.44],[0.46,-0.52],[0.54,-0.47],[0.60,-0.52],[0.70,-0.46],[0.78,-0.50],[0.87,-0.47],[0.95,-0.52],[0.01,-0.58],[0.04,-0.62],[0.09,-0.57],[0.13,-0.63],[0.18,-0.59],[0.23,-0.64],[0.28,-0.58],[0.34,-0.62],[0.39,-0.56],[0.44,-0.63],[0.49,-0.59],[0.55,-0.65],[0.62,-0.58],[0.67,-0.63],[0.73,-0.60],[0.79,-0.66],[0.84,-0.60],[0.91,-0.64],[0.97,-0.60],[0.03,-0.70],[0.08,-0.75],[0.12,-0.69],[0.17,-0.74],[0.22,-0.70],[0.27,-0.76],[0.33,-0.71],[0.37,-0.75],[0.42,-0.70],[0.48,-0.74],[0.53,-0.69],[0.58,-0.76],[0.64,-0.71],[0.69,-0.75],[0.75,-0.69],[0.81,-0.74],[0.86,-0.70],[0.92,-0.76],[0.98,-0.72],[0.06,-0.82],[0.11,-0.87],[0.16,-0.81],[0.21,-0.86],[0.26,-0.80],[0.31,-0.85],[0.36,-0.81],[0.41,-0.88],[0.47,-0.82],[0.51,-0.87],[0.57,-0.81],[0.61,-0.86],[0.66,-0.82],[0.72,-0.88],[0.77,-0.83],[0.83,-0.87],[0.88,-0.82],[0.94,-0.86],[0.99,-0.84],[0.02,-0.94],[0.09,-0.98],[0.15,-0.92],[0.24,-0.97],[0.29,-0.93],[0.35,-1.00],[0.43,-0.94],[0.50,-0.99],[0.56,-0.93],[0.63,-0.98],[0.68,-0.92],[0.74,-0.99],[0.82,-0.94],[0.89,-0.98],[0.96,-0.93],[0.12,-1.06],[0.22,-1.10],[0.33,-1.05],[0.45,-1.12],[0.58,-1.06],[0.70,-1.10],[0.85,-1.05],[0.97,-1.10],[0.43,-1.24],[0.95,-1.18],[0.60,-1.15],[0.26,-0.40],[0.58,-0.40],[0.75,-0.38],[0.18,-0.66]];
const grey4b = [[0.01,-0.68],[0.03,-0.54],[0.06,-0.76],[0.08,-0.62],[0.10,-0.84],[0.12,-0.58],[0.14,-0.72],[0.16,-0.90],[0.19,-0.66],[0.21,-0.78],[0.23,-0.56],[0.25,-0.84],[0.28,-0.68],[0.30,-0.76],[0.32,-0.60],[0.35,-0.90],[0.37,-0.66],[0.39,-0.78],[0.41,-0.62],[0.43,-0.84],[0.46,-0.72],[0.48,-0.92],[0.50,-0.66],[0.52,-0.78],[0.55,-0.60],[0.57,-0.88],[0.59,-0.70],[0.61,-0.80],[0.63,-0.64],[0.65,-0.92],[0.68,-0.74],[0.70,-0.84],[0.72,-0.66],[0.74,-0.90],[0.76,-0.76],[0.78,-0.62],[0.80,-0.86],[0.82,-0.72],[0.85,-0.94],[0.87,-0.78],[0.89,-0.66],[0.91,-0.88],[0.93,-0.72],[0.95,-0.84],[0.97,-0.68],[0.99,-0.92]];
const grey5 = [[0.89,0.10],[0.06,-0.28],[0.18,-0.32],[0.33,-0.30],[0.48,-0.25],[0.60,-0.32],[0.72,-0.22],[0.82,-0.28],[0.95,-0.20],[0.03,-0.46],[0.10,-0.40],[0.16,-0.48],[0.22,-0.42],[0.28,-0.46],[0.36,-0.52],[0.42,-0.44],[0.50,-0.48],[0.56,-0.42],[0.64,-0.46],[0.70,-0.40],[0.77,-0.45],[0.85,-0.42],[0.91,-0.47],[0.98,-0.44],[0.02,-0.58],[0.07,-0.62],[0.13,-0.56],[0.19,-0.64],[0.24,-0.58],[0.30,-0.62],[0.35,-0.57],[0.40,-0.63],[0.46,-0.58],[0.52,-0.62],[0.58,-0.55],[0.63,-0.60],[0.68,-0.56],[0.74,-0.61],[0.79,-0.57],[0.84,-0.62],[0.90,-0.56],[0.96,-0.60],[0.04,-0.70],[0.09,-0.75],[0.15,-0.70],[0.21,-0.76],[0.26,-0.70],[0.31,-0.74],[0.37,-0.69],[0.43,-0.75],[0.49,-0.70],[0.54,-0.73],[0.60,-0.68],[0.66,-0.74],[0.71,-0.70],[0.76,-0.74],[0.81,-0.68],[0.87,-0.73],[0.93,-0.69],[0.99,-0.74],[0.01,-0.82],[0.05,-0.86],[0.11,-0.80],[0.17,-0.86],[0.23,-0.82],[0.28,-0.88],[0.34,-0.82],[0.39,-0.86],[0.45,-0.80],[0.51,-0.87],[0.57,-0.82],[0.62,-0.86],[0.67,-0.81],[0.73,-0.86],[0.78,-0.82],[0.83,-0.88],[0.88,-0.82],[0.94,-0.86],[0.03,-0.94],[0.08,-0.99],[0.14,-0.93],[0.20,-0.98],[0.27,-0.92],[0.32,-0.97],[0.38,-0.93],[0.44,-1.00],[0.49,-0.94],[0.55,-0.98],[0.61,-0.93],[0.69,-0.99],[0.75,-0.94],[0.80,-0.98],[0.86,-0.93],[0.92,-0.98],[0.06,-1.06],[0.12,-1.12],[0.18,-1.05],[0.25,-1.10],[0.36,-1.06],[0.47,-1.12],[0.59,-1.06],[0.72,-1.10],[0.84,-1.05],[0.41,-1.22],[0.42,-1.15],[0.53,-1.16],[0.64,-1.20],[0.26,-0.50],[0.81,-0.35],[0.55,-0.66],[0.12,-0.66]];
const grey5b = [[0.01,-0.74],[0.03,-0.88],[0.05,-0.64],[0.07,-0.80],[0.09,-0.92],[0.11,-0.70],[0.13,-0.84],[0.15,-0.60],[0.17,-0.76],[0.19,-0.90],[0.22,-0.66],[0.24,-0.80],[0.26,-0.92],[0.28,-0.72],[0.30,-0.84],[0.33,-0.62],[0.35,-0.76],[0.37,-0.90],[0.39,-0.68],[0.41,-0.80],[0.44,-0.58],[0.46,-0.72],[0.48,-0.88],[0.50,-0.64],[0.52,-0.78],[0.55,-0.90],[0.57,-0.66],[0.59,-0.76],[0.61,-0.56],[0.63,-0.82],[0.65,-0.68],[0.67,-0.90],[0.70,-0.62],[0.72,-0.76],[0.74,-0.54],[0.76,-0.84],[0.78,-0.66],[0.80,-0.78],[0.82,-0.56],[0.84,-0.72],[0.86,-0.88],[0.88,-0.64],[0.90,-0.76],[0.92,-0.52],[0.94,-0.80],[0.96,-0.66],[0.98,-0.84]];
const grey6 = [[0.20,0.11],[0.49,-0.22],[0.65,-0.20],[0.22,-0.30],[0.32,-0.28],[0.38,-0.32],[0.45,-0.26],[0.78,-0.24],[0.86,-0.30],[0.03,-0.38],[0.10,-0.42],[0.17,-0.36],[0.25,-0.44],[0.33,-0.40],[0.41,-0.45],[0.55,-0.42],[0.62,-0.38],[0.70,-0.44],[0.80,-0.40],[0.90,-0.42],[0.97,-0.38],[0.01,-0.48],[0.06,-0.52],[0.12,-0.48],[0.18,-0.54],[0.24,-0.50],[0.29,-0.55],[0.36,-0.49],[0.43,-0.54],[0.50,-0.50],[0.57,-0.55],[0.63,-0.50],[0.68,-0.54],[0.74,-0.49],[0.82,-0.53],[0.88,-0.50],[0.94,-0.54],[0.99,-0.52],[0.02,-0.60],[0.08,-0.64],[0.13,-0.58],[0.19,-0.63],[0.26,-0.59],[0.31,-0.65],[0.37,-0.60],[0.42,-0.63],[0.48,-0.58],[0.53,-0.65],[0.59,-0.61],[0.66,-0.64],[0.71,-0.59],[0.77,-0.65],[0.83,-0.61],[0.89,-0.64],[0.95,-0.60],[0.04,-0.70],[0.09,-0.74],[0.15,-0.70],[0.21,-0.75],[0.27,-0.71],[0.34,-0.74],[0.40,-0.70],[0.46,-0.76],[0.52,-0.71],[0.58,-0.75],[0.64,-0.70],[0.69,-0.76],[0.75,-0.71],[0.81,-0.74],[0.87,-0.70],[0.93,-0.76],[0.98,-0.72],[0.05,-0.82],[0.11,-0.86],[0.16,-0.81],[0.23,-0.86],[0.30,-0.82],[0.36,-0.87],[0.44,-0.83],[0.51,-0.86],[0.56,-0.81],[0.61,-0.87],[0.67,-0.82],[0.72,-0.88],[0.79,-0.83],[0.85,-0.87],[0.91,-0.82],[0.96,-0.86],[0.07,-0.94],[0.14,-0.98],[0.22,-0.93],[0.28,-1.00],[0.39,-0.95],[0.47,-0.99],[0.57,-0.94],[0.63,-1.00],[0.71,-0.96],[0.76,-0.93],[0.84,-0.99],[0.92,-0.95],[0.99,-0.98],[0.10,-1.08],[0.19,-1.10],[0.26,-1.12],[0.50,-1.06],[0.60,-1.08],[0.70,-1.18],[0.82,-1.05],[0.11,-1.27],[0.13,-1.22],[0.36,-1.17],[0.54,-1.14],[0.92,-1.17],[0.73,-1.02]];
const grey6b = [[0.01,-0.64],[0.03,-0.56],[0.05,-0.76],[0.07,-0.60],[0.09,-0.86],[0.11,-0.66],[0.13,-0.78],[0.15,-0.54],[0.17,-0.72],[0.19,-0.88],[0.21,-0.62],[0.23,-0.76],[0.25,-0.58],[0.27,-0.84],[0.29,-0.68],[0.31,-0.78],[0.33,-0.56],[0.35,-0.92],[0.38,-0.66],[0.40,-0.80],[0.42,-0.58],[0.44,-0.74],[0.46,-0.88],[0.48,-0.64],[0.50,-0.78],[0.52,-0.60],[0.54,-0.84],[0.56,-0.70],[0.59,-0.92],[0.61,-0.66],[0.63,-0.80],[0.65,-0.58],[0.67,-0.74],[0.69,-0.90],[0.71,-0.68],[0.73,-0.82],[0.75,-0.60],[0.77,-0.76],[0.79,-0.94],[0.81,-0.66],[0.83,-0.80],[0.85,-0.62],[0.87,-0.88],[0.89,-0.72],[0.91,-0.58],[0.93,-0.84],[0.95,-0.70],[0.97,-0.90],[0.99,-0.62]];

const topRed = [red1.concat(red1b), red2.concat(red2b), red3.concat(red3b), red4.concat(red4b), red5.concat(red5b), red6.concat(red6b)];
const topBlue = [blue1.concat(blue1b), blue2.concat(blue2b), blue3.concat(blue3b), blue4.concat(blue4b), blue5.concat(blue5b), blue6.concat(blue6b)];
const bottomGrey = [grey1.concat(grey1b), grey2.concat(grey2b), grey3.concat(grey3b), grey4.concat(grey4b), grey5.concat(grey5b), grey6.concat(grey6b)];

// ---------------- LAYOUT / STYLE ----------------
const RED = "#e31a1c", BLUE = "#1f78b4", GREY = "#9a9a9a", INK = "#231f20";
const panelX0 = 128.5, panelStep = 435.4, panelW = 367.4;
const rows = [{y: 75, h: 381.7}, {y: 536, h: 381.5}];
const TICK_FS = 25, TITLE_FS = 31, LEG_FS = 30;

const svg = d3.select("#c");
const defs = svg.append("defs");
const cross = s => `M${-s},${-s}L${s},${s}M${-s},${s}L${s},${-s}`;

const measurer = svg.append("text").attr("font-size", LEG_FS).attr("visibility","hidden");
function textW(t){ measurer.text(t); return measurer.node().getComputedTextLength(); }

function drawPanel(row, col, cfg){
  const x0 = panelX0 + col*panelStep;
  const {y: y0, h} = rows[row];
  const x = d3.scaleLinear().domain([0,1]).range([x0, x0+panelW]);
  const y = d3.scaleLinear().domain(row===0 ? topYDomain : bottomYDomain).range([y0+h, y0]);
  const id = `clip-${row}-${col}`;
  defs.append("clipPath").attr("id", id).append("rect")
    .attr("x", x0).attr("y", y0).attr("width", panelW).attr("height", h);
  const g = svg.append("g");
  const pg = g.append("g").attr("clip-path", `url(#${id})`);

  cfg.series.forEach(s => {
    pg.append("g").selectAll("path").data(s.data).join("path")
      .attr("d", cross(8.3))
      .attr("transform", d => `translate(${x(d[0])},${y(d[1])})`)
      .attr("fill","none").attr("stroke", s.color).attr("stroke-width", 2.3);
  });
  cfg.fits.forEach(f => {
    pg.append("line").attr("x1", x(0)).attr("x2", x(1))
      .attr("y1", y(f.v[0])).attr("y2", y(f.v[1]))
      .attr("stroke", f.color).attr("stroke-width", 5);
  });
  cfg.squares.forEach(q => {
    pg.append("rect").attr("x", x(q.x)-14).attr("y", y(q.y)-14)
      .attr("width", 28).attr("height", 28).attr("fill", q.color);
  });

  const yt = row===0 ? topYTicks : bottomYTicks;
  const ytl = row===0 ? topYTickLabels : bottomYTickLabels;
  const axes = [
    {a: d3.axisBottom(x).tickValues(xTicks).tickPadding(12).tickFormat((d,i)=> row===1 ? xTickLabels[i] : ""), t:`translate(0,${y0+h})`},
    {a: d3.axisTop(x).tickValues(xTicks).tickFormat(()=>""), t:`translate(0,${y0})`},
    {a: d3.axisLeft(y).tickValues(yt).tickPadding(10).tickFormat((d,i)=> col===0 ? ytl[i] : ""), t:`translate(${x0},0)`},
    {a: d3.axisRight(y).tickValues(yt).tickFormat(()=>""), t:`translate(${x0+panelW},0)`}
  ];
  axes.forEach(ax => {
    const ag = g.append("g").attr("transform", ax.t).call(ax.a.tickSize(9).tickSizeOuter(0));
    ag.select(".domain").remove();
    ag.selectAll(".tick line").attr("stroke", INK).attr("stroke-width", 2);
    ag.selectAll(".tick text").attr("font-size", TICK_FS).attr("fill", INK)
      .attr("font-family", '"Liberation Sans", Arial, sans-serif');
  });
  g.append("rect").attr("x", x0).attr("y", y0).attr("width", panelW).attr("height", h)
    .attr("fill","none").attr("stroke", INK).attr("stroke-width", 2);

  g.append("text").attr("x", x0+panelW/2).attr("y", y0-16).attr("text-anchor","middle")
    .attr("font-size", TITLE_FS).text(cfg.title);

  const HL = 58, HG = 18, CG = 54;
  const items = cfg.legend.map(l => ({...l, w: textW(l.label)}));
  let total = items.reduce((s,it)=> s + HL + HG + it.w, 0) + CG*(items.length-1);
  let cx = x0 + panelW/2 - total/2;
  const ly = y0 + 37;
  const lg = g.append("g");
  items.forEach(it => {
    lg.append("line").attr("x1", cx).attr("x2", cx+HL).attr("y1", ly).attr("y2", ly)
      .attr("stroke", it.color).attr("stroke-width", 5);
    lg.append("text").attr("x", cx+HL+HG).attr("y", ly+11).attr("font-size", LEG_FS).text(it.label);
    cx += HL + HG + it.w + CG;
  });
}

for (let c = 0; c < 6; c++){
  drawPanel(0, c, {
    title: topTitles[c],
    series: [{data: topRed[c], color: RED}, {data: topBlue[c], color: BLUE}],
    fits: [{v: topRedFit[c], color: RED}, {v: topBlueFit[c], color: BLUE}],
    squares: [{x: topDefaultX[c], y: defaultRedY, color: RED}, {x: topDefaultX[c], y: defaultBlueY, color: BLUE}],
    legend: [{label: topRedCorr[c], color: RED}, {label: topBlueCorr[c], color: BLUE}]
  });
  drawPanel(1, c, {
    title: bottomTitles[c],
    series: [{data: bottomGrey[c], color: GREY}],
    fits: [{v: bottomFit[c], color: INK}],
    squares: [{x: bottomDefaultX[c], y: defaultGreyY, color: INK}],
    legend: [{label: bottomCorr[c], color: INK}]
  });
}

function yLabel(cy, prefix){
  const t = svg.append("text").attr("transform", `translate(50,${cy}) rotate(-90)`)
    .attr("text-anchor","middle").attr("font-size", 27);
  t.append("tspan").text(prefix + "λ");
  t.append("tspan").attr("font-size", 19).attr("dy", 5).text("SW");
  t.append("tspan").attr("dy", -5).text(" : subs.");
}
yLabel(rows[0].y + rows[0].h/2 - 4, "");
yLabel(rows[1].y + rows[1].h/2 - 4, "Δ ");

svg.append("text").attr("x", 1400).attr("y", 1010).attr("text-anchor","middle")
  .attr("font-size", 42).text("Standardized parameter range");
measurer.remove();
</script>
</body></html>
